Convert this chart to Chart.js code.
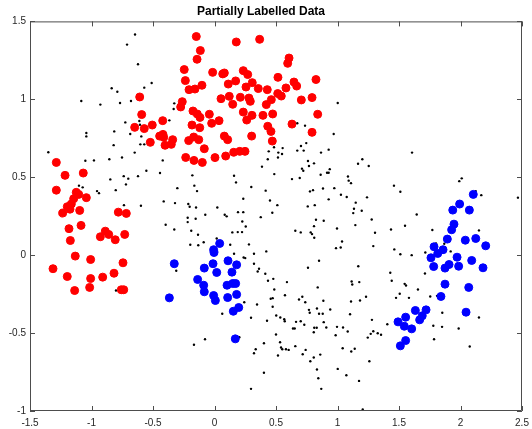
<!DOCTYPE html>
<html>
<head>
<meta charset="utf-8">
<script src="https://cdn.jsdelivr.net/npm/chart.js@4/dist/chart.umd.min.js"></script>
<style>
  html, body { margin: 0; padding: 0; background: #fff; }
  #wrap { width: 532px; height: 429px; }
</style>
</head>
<body>
<div id="wrap"><canvas id="chart" width="532" height="429"></canvas></div>
<script>
// Axis ticks
const xTicks = [-1.5, -1, -0.5, 0, 0.5, 1, 1.5, 2, 2.5];
const yTicks = [-1, -0.5, 0, 0.5, 1, 1.5];

// Labelled class 1 (red)
const redPts = [
    [-0.148,1.403],[-0.142,1.257],[-0.246,1.191],[-0.237,1.120],[-0.207,1.062],[-0.159,1.066],[-0.608,1.015],[-0.262,0.985],
    [-0.275,0.951],[-0.175,0.925],[-0.592,0.902],[-0.649,0.820],[-0.571,0.812],[-0.506,0.835],[-0.421,0.863],[-0.183,0.835],
    [-0.446,0.764],[-0.419,0.775],[-0.413,0.756],[-0.522,0.724],[-0.402,0.705],[-0.340,0.741],[-0.351,0.711],[-0.210,0.735],
    [-0.169,0.758],[-0.234,0.627],[-0.167,0.608],[-1.286,0.595],[-1.215,0.512],[-1.067,0.527],[-1.286,0.417],[-1.124,0.403],
    [-1.104,0.390],[-1.145,0.362],[-1.042,0.369],[-1.164,0.328],[-1.197,0.311],[-1.175,0.295],[-1.234,0.270],[-1.096,0.287],
    [-0.782,0.276],[-0.717,0.268],[-1.183,0.170],[-1.085,0.191],[-1.172,0.094],[-0.928,0.118],[-0.888,0.154],[-0.860,0.133],
    [-0.807,0.099],[-0.730,0.133],[-1.132,-0.006],[-1.007,-0.028],[-0.744,-0.049],[-1.313,-0.087],[-1.197,-0.137],[-1.007,-0.150],
    [-0.909,-0.141],[-0.817,-0.116],[-1.137,-0.227],[-1.015,-0.207],[-0.758,-0.222],[-0.738,-0.222],
    [0.177,1.368],[0.367,1.385],[-0.115,1.313],[0.606,1.265],[0.595,1.231],[-0.015,1.173],[0.067,1.163],[0.080,1.169],
    [0.234,1.184],[0.270,1.159],[0.516,1.141],[0.825,1.127],[0.172,1.118],[0.112,1.098],[-0.102,1.090],[0.307,1.107],
    [0.256,1.079],[0.356,1.069],[0.429,1.062],[0.581,1.073],[0.646,1.111],[0.668,1.085],[0.053,1.004],[0.120,1.019],
    [0.210,1.013],[0.280,1.008],[0.291,0.987],[0.148,0.968],[0.514,1.037],[0.543,1.021],[0.462,0.998],[0.421,0.966],
    [0.706,0.996],[0.793,1.011],[-0.140,0.906],[-0.118,0.884],[-0.120,0.818],[-0.042,0.904],[-0.023,0.846],[0.037,0.863],
    [0.234,0.918],[0.305,0.897],[0.262,0.867],[0.394,0.897],[0.473,0.906],[0.433,0.827],[0.459,0.794],[0.630,0.841],
    [0.839,0.904],[0.793,0.788],[-0.128,0.741],[0.080,0.764],[0.107,0.741],[0.302,0.764],[0.470,0.732],[-0.083,0.683],
    [0.156,0.660],[0.205,0.666],[0.248,0.666],[0.004,0.626],[0.091,0.636],[-0.099,0.595]
];

// Labelled class 2 (blue)
const bluePts = [
    [0.042,0.075],[-0.007,0.035],[-0.004,0.017],[0.110,-0.036],[0.180,-0.062],[-0.012,-0.055],[-0.083,-0.083],[0.018,-0.111],
    [0.142,-0.109],[-0.137,-0.156],[-0.088,-0.193],[-0.083,-0.235],[0.102,-0.193],[0.148,-0.182],[0.172,-0.182],[-0.007,-0.259],
    [0.007,-0.291],[0.107,-0.272],[0.180,-0.252],[0.197,-0.336],[0.153,-0.360],[0.169,-0.537],[-0.327,-0.055],[-0.367,-0.274],
    [2.104,0.390],[1.993,0.328],[1.937,0.289],[2.072,0.289],[1.947,0.199],[1.928,0.163],[1.893,0.103],[2.039,0.096],
    [2.124,0.107],[2.205,0.060],[1.785,0.054],[1.858,0.035],[1.815,0.011],[1.760,-0.017],[1.972,-0.013],[2.091,-0.034],
    [1.782,-0.073],[1.874,-0.083],[1.907,-0.060],[1.985,-0.071],[2.183,-0.081],[1.874,-0.186],[2.067,-0.207],[1.841,-0.265],
    [1.633,-0.355],[1.720,-0.351],[1.689,-0.389],[1.668,-0.415],[1.554,-0.398],[1.492,-0.428],[1.543,-0.456],[1.603,-0.473],
    [2.045,-0.366],[1.554,-0.548],[1.511,-0.582]
];

// Unlabelled points (black dots)
const unlabelledPts = [
    [-0.646,1.416],[-0.711,1.351],[-0.622,1.225],[-0.511,1.105],[-0.571,1.075],[-0.836,1.071],[-0.790,1.049],[-1.083,0.989],
    [-0.928,0.966],[-0.768,0.976],[-0.679,0.989],[-0.327,0.974],[-0.332,0.938],[-0.611,0.861],[-0.606,0.837],[-0.725,0.852],
    [-0.367,0.865],[-0.815,0.794],[-0.685,0.777],[-1.042,0.784],[-1.042,0.762],[-0.595,0.762],[-0.603,0.711],[-0.571,0.711],
    [-0.820,0.706],[-1.351,0.660],[-0.649,0.658],[-1.050,0.606],[-0.980,0.608],[-0.855,0.615],[-0.752,0.627],[-0.421,0.608],
    [-0.554,0.542],[-0.443,0.527],[-0.738,0.507],[-0.701,0.491],[-0.622,0.507],[-0.847,0.486],[-0.180,0.512],[-0.720,0.454],
    [-0.803,0.417],[-1.102,0.446],[-1.072,0.435],[-0.955,0.411],[-0.939,0.398],[-0.302,0.430],[-0.164,0.446],[-0.413,0.345],
    [-0.321,0.334],[-0.736,0.321],[-0.598,0.317],[-0.213,0.328],[-0.202,0.311],
    [-0.397,0.195],[-0.327,0.165],[-0.218,0.240],[-0.218,0.212],[-0.189,0.157],[-0.197,0.067],[-0.311,-0.100],[-0.801,-0.227],
    [-0.167,-0.575],
    [1.002,0.976],[0.736,0.831],[0.673,0.846],[0.969,0.777],[0.703,0.700],[0.746,0.719],[0.673,0.671],[0.725,0.671],
    [0.554,0.687],[0.519,0.658],[0.516,0.627],[0.549,0.649],[0.441,0.666],[0.433,0.615],[0.484,0.692],[0.386,0.568],
    [0.866,0.658],[0.928,0.677],[0.760,0.604],[0.809,0.589],[0.711,0.555],[0.722,0.542],[0.768,0.572],[0.863,0.516],
    [0.915,0.529],[0.928,0.529],[0.937,0.552],[0.486,0.520],[0.630,0.488],[0.693,0.495],[1.167,0.587],[1.085,0.505],
    [1.091,0.478],[1.110,0.462],[0.159,0.510],[0.175,0.467],[0.299,0.437],[0.416,0.414],[-0.142,0.411],[0.234,0.362],
    [0.451,0.351],[0.511,0.321],[0.776,0.409],[0.801,0.417],[0.882,0.428],[0.974,0.430],[0.928,0.358],[1.028,0.388],
    [1.075,0.373],[1.148,0.337],[1.134,0.298],[1.128,0.270],[0.758,0.313],[0.815,0.321],[0.023,0.306],[-0.150,0.306],
    [0.191,0.276],[0.234,0.276],[0.470,0.272],[-0.075,0.259],[0.083,0.259],
    [0.099,0.249],[0.376,0.244],[-0.153,0.234],[0.226,0.216],[0.254,0.184],[0.224,0.148],[0.189,0.148],[0.145,0.146],
    [0.825,0.227],[0.809,0.186],[0.888,0.221],[0.782,0.146],[0.793,0.135],[0.811,0.112],[0.657,0.157],[0.701,0.146],
    [0.996,0.171],[1.145,0.193],[-0.134,0.131],[0.018,0.107],[-0.088,0.083],[-0.132,0.064],[0.128,0.067],[0.280,0.069],
    [1.037,0.088],[1.026,0.049],[0.988,0.045],[0.421,0.024],[0.159,0.009],[0.237,-0.015],[0.250,-0.019],[0.321,0.009],
    [0.321,-0.055],[0.850,-0.036],[0.362,-0.087],[0.351,-0.105],[0.413,-0.119],[0.760,-0.081],[1.169,-0.071],[0.478,-0.152],
    [0.435,-0.164],[0.589,-0.173],[1.115,-0.169],[1.120,-0.188],[1.177,-0.173],[0.839,-0.207],[0.486,-0.220],[0.457,-0.280],
    [0.473,-0.276],[0.573,-0.257],[0.714,-0.267],[0.687,-0.285],[0.738,-0.302],[0.885,-0.293],[0.833,-0.342],[0.242,-0.302],
    [0.346,-0.317],[0.473,-0.331],[1.110,-0.297],[0.941,-0.349],[0.768,-0.351],[0.774,-0.370],[0.850,-0.376],[0.880,-0.376],
    [1.102,-0.379],[0.063,-0.376],[0.502,-0.387],[0.535,-0.400],[0.567,-0.411],[0.571,-0.424],[0.297,-0.402],[0.427,-0.421],
    [0.663,-0.428],[0.701,-0.424],[0.730,-0.447],[0.888,-0.430],[0.909,-0.464],[0.811,-0.466],[0.831,-0.466],[0.807,-0.495],
    [0.638,-0.471],[0.652,-0.471],[0.996,-0.460],[1.045,-0.464],[1.083,-0.490],[0.985,-0.514],[0.500,-0.509],[0.202,-0.527],
    [-0.077,-0.540],[0.533,-0.559],[0.541,-0.593],[0.551,-0.604],[0.581,-0.604],[0.603,-0.608],[0.402,-0.565],[0.657,-0.584],
    [0.335,-0.604],[0.321,-0.629],[0.741,-0.608],[0.717,-0.636],[0.516,-0.644],[0.860,-0.638],[0.807,-0.657],[0.779,-0.681],
    [1.042,-0.597],[1.112,-0.618],[1.140,-0.601],[0.402,-0.755],[0.833,-0.734],[0.844,-0.790],[1.002,-0.730],[1.072,-0.771],
    [1.175,-0.807],[0.297,-0.858],[0.868,-0.858],
    [1.606,0.658],[1.202,0.615],[1.254,0.572],[1.990,0.475],[2.010,0.493],[1.459,0.446],[1.511,0.407],[1.240,0.371],
    [2.169,0.385],[2.124,0.411],[2.467,0.369],[1.197,0.285],[1.644,0.261],
    [1.278,0.229],[1.305,0.144],[1.435,0.165],[1.549,0.189],[1.771,0.161],[2.150,0.159],[1.291,0.058],[1.462,0.037],
    [1.511,0.006],[1.603,0.000],[1.714,0.017],[1.801,0.075],[1.868,0.073],[1.920,0.024],[1.429,-0.113],[1.441,-0.164],
    [1.711,-0.118],[1.232,-0.267],[1.183,-0.291],[1.546,-0.184],[1.557,-0.195],[1.654,-0.220],[1.506,-0.248],[1.476,-0.274],
    [1.581,-0.274],[1.754,-0.265],[1.809,-0.261],[1.852,-0.370],[2.150,-0.400],[1.280,-0.415],[1.405,-0.443],[1.779,-0.453],
    [1.850,-0.460],[1.985,-0.471],[1.291,-0.488],[1.270,-0.505],[1.246,-0.529],[1.327,-0.501],[1.354,-0.511],[1.785,-0.540],
    [2.075,-0.586],[1.259,-0.681],[1.205,-0.990]
];

const titleText = 'Partially Labelled Data';
const axisFont = 'Liberation Sans, Arial, Helvetica, sans-serif';

function toXY(pts) {
    return pts.map(p => ({ x: p[0], y: p[1] }));
}

function fmtTick(v) {
    return String(Math.round(v * 10) / 10);
}

// MATLAB style box with inward ticks on all four sides
const boxPlugin = {
    id: 'matlabBox',
    afterDatasetsDraw(chart) {
        const { ctx, chartArea, scales } = chart;
        const { left, right, top, bottom } = chartArea;
        ctx.save();
        ctx.strokeStyle = '#4d4d4d';
        ctx.lineWidth = 1;
        ctx.beginPath();
        ctx.rect(left + 0.5, top + 0.5, right - left - 1, bottom - top - 1);
        ctx.stroke();
        const len = 5;
        ctx.beginPath();
        xTicks.forEach(v => {
            const px = Math.round(scales.x.getPixelForValue(v)) + 0.5;
            ctx.moveTo(px, bottom); ctx.lineTo(px, bottom - len);
            ctx.moveTo(px, top); ctx.lineTo(px, top + len);
        });
        yTicks.forEach(v => {
            const py = Math.round(scales.y.getPixelForValue(v)) + 0.5;
            ctx.moveTo(left, py); ctx.lineTo(left + len, py);
            ctx.moveTo(right, py); ctx.lineTo(right - len, py);
        });
        ctx.stroke();
        ctx.restore();
    }
};

new Chart(document.getElementById('chart').getContext('2d'), {
    type: 'scatter',
    data: {
        datasets: [
            {
                label: 'class 2',
                data: toXY(bluePts),
                backgroundColor: '#0000ff',
                borderColor: '#0000ff',
                pointRadius: 4,
                borderWidth: 1,
                order: 1
            },
            {
                label: 'class 1',
                data: toXY(redPts),
                backgroundColor: '#ff0000',
                borderColor: '#ff0000',
                pointRadius: 4,
                borderWidth: 1,
                order: 2
            },
            {
                label: 'unlabelled',
                data: toXY(unlabelledPts),
                backgroundColor: '#000000',
                borderWidth: 0,
                pointRadius: 1.2,
                order: 3
            }
        ]
    },
    options: {
        responsive: false,
        animation: false,
        events: [],
        layout: { padding: { left: 0, right: 10, top: 0, bottom: 0 } },
        plugins: {
            legend: { display: false },
            tooltip: { enabled: false },
            title: {
                display: true,
                text: titleText,
                color: '#000',
                font: { family: axisFont, size: 12, weight: 'bold' },
                padding: { top: 4, bottom: 3 }
            }
        },
        scales: {
            x: {
                type: 'linear',
                min: -1.5,
                max: 2.5,
                grid: { display: false, drawTicks: false },
                border: { display: false },
                afterBuildTicks: s => { s.ticks = xTicks.map(v => ({ value: v })); },
                afterFit: s => { s.height = 18; s.paddingLeft = 0; s.paddingRight = 0; },
                ticks: {
                    color: '#262626',
                    font: { family: axisFont, size: 10 },
                    padding: 6,
                    maxRotation: 0,
                    autoSkip: false,
                    callback: v => fmtTick(v)
                }
            },
            y: {
                type: 'linear',
                min: -1,
                max: 1.5,
                grid: { display: false, drawTicks: false },
                border: { display: false },
                afterBuildTicks: s => { s.ticks = yTicks.map(v => ({ value: v })); },
                afterFit: s => { s.width = 30; s.paddingTop = 0; s.paddingBottom = 0; },
                ticks: {
                    color: '#262626',
                    font: { family: axisFont, size: 10 },
                    padding: 4,
                    autoSkip: false,
                    callback: v => fmtTick(v)
                }
            }
        }
    },
    plugins: [boxPlugin]
});
</script>
</body>
</html>
